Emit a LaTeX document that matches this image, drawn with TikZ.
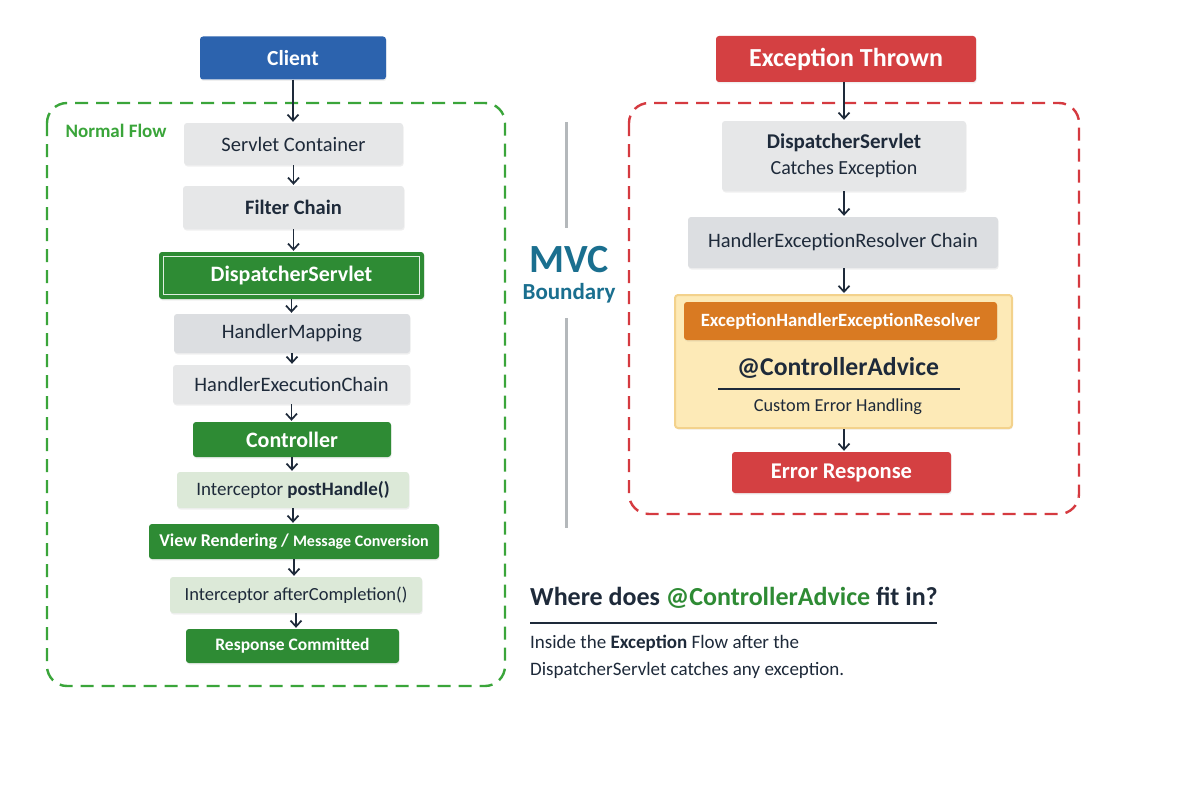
\documentclass[tikz,border=0pt]{standalone}
\usepackage{fontspec}
\setmainfont{Carlito}
\usetikzlibrary{arrows.meta,shadows}
\definecolor{navy}{RGB}{30,42,58}
\definecolor{cblue}{RGB}{44,99,174}
\definecolor{cgreen}{RGB}{46,139,52}
\definecolor{dgreen}{RGB}{58,165,58}
\definecolor{lgray}{RGB}{230,231,232}
\definecolor{mgray}{RGB}{220,222,225}
\definecolor{lgreen}{RGB}{220,233,216}
\definecolor{cred}{RGB}{212,64,66}
\definecolor{dred}{RGB}{213,58,64}
\definecolor{corange}{RGB}{217,122,34}
\definecolor{cyellow}{RGB}{253,234,183}
\definecolor{yborder}{RGB}{243,210,140}
\definecolor{teal}{RGB}{26,111,143}
\definecolor{lineg}{RGB}{180,184,187}
\newcommand\fsz[2]{\fontsize{#1}{#2}\selectfont}
\tikzset{
  box/.style={rectangle, rounded corners=3pt, inner sep=0pt, align=center, text=navy,
    drop shadow={opacity=0.12, shadow xshift=0.6pt, shadow yshift=-1.5pt}},
  graybox/.style={box, fill=lgray, font=\fsz{20.5}{24}},
  mgraybox/.style={box, fill=mgray, font=\fsz{20.5}{24}},
  lgbox/.style={box, fill=lgreen, font=\fsz{19}{22}},
  gbox/.style={box, fill=cgreen, text=white, font=\fsz{22}{26}\bfseries},
  rbox/.style={box, fill=cred, text=white, font=\fsz{22.5}{26}\bfseries},
  arr/.style={draw=navy, line width=1.9pt, -{Straight Barb[length=6pt,width=11pt,line width=1.7pt]}, shorten >=1pt},
  gdash/.style={draw=dgreen, line width=2.4pt, dash pattern=on 13pt off 8pt, rounded corners=20pt},
  rdash/.style={draw=dred, line width=2.4pt, dash pattern=on 13pt off 8pt, rounded corners=20pt},
}
\begin{document}
\begin{tikzpicture}[x=1pt,y=-1pt]
\useasboundingbox[fill=white] (0,0) rectangle (1200,800);

% dashed frames
\draw[gdash] (47,103) rectangle (505,686);
\draw[rdash] (629,103) rectangle (1079,514);
\node[anchor=west, text=dgreen, font=\fsz{19}{22}\bfseries] (nf) at (62,131) {Normal Flow};

% left column
\node[box, fill=cblue, text=white, font=\fsz{21.5}{25}\bfseries, minimum width=186pt, minimum height=43pt] (client) at (293,58) {Client};
\node[graybox, minimum width=219pt, minimum height=42pt] (sc) at (293.5,144) {Servlet Container};
\node[graybox, minimum width=221pt, minimum height=43pt] (fc) at (293.5,207.5) {\bfseries Filter Chain};
\node[gbox, minimum width=265pt, minimum height=47pt] (ds) at (291.5,275.5) {DispatcherServlet};
\draw[white!85!cgreen, line width=1.2pt] ([xshift=5pt,yshift=-5pt]ds.north west) rectangle ([xshift=-5pt,yshift=5pt]ds.south east);
\node[mgraybox, minimum width=236pt, minimum height=39pt] (hm) at (292,333.5) {HandlerMapping};
\node[graybox, minimum width=237pt, minimum height=39pt] (hec) at (291.5,384.5) {HandlerExecutionChain};
\node[gbox, minimum width=198pt, minimum height=35pt] (ctl) at (292,439.5) {Controller};
\node[lgbox, minimum width=232pt, minimum height=36pt] (ph) at (293,490) {Interceptor \textbf{postHandle()}};
\node[gbox, minimum width=290pt, minimum height=35pt, font=\bfseries] (vr) at (294,541.5) {{\fsz{18}{21}View Rendering / }{\fsz{16}{19}Message Conversion}};
\node[lgbox, minimum width=252pt, minimum height=36pt, font=\fsz{18.5}{22}] (ac) at (296,595) {Interceptor afterCompletion()};
\node[gbox, minimum width=213pt, minimum height=34pt, font=\fsz{17.5}{21}\bfseries] (rc) at (292.5,646) {Response Committed};

\draw[arr] (client.south) -- (client.south |- sc.north);
\draw[arr] (sc.south) -- (sc.south |- fc.north);
\draw[arr] (fc.south) -- (fc.south |- ds.north);
\draw[arr] (ds.south) -- (ds.south |- hm.north);
\draw[arr] (hm.south) -- (hm.south |- hec.north);
\draw[arr] (hec.south) -- (hec.south |- ctl.north);
\draw[arr] (ctl.south) -- (ctl.south |- ph.north);
\draw[arr] (ph.south) -- (ph.south |- vr.north);
\draw[arr] (vr.south) -- (vr.south |- ac.north);
\draw[arr] (ac.south) -- (ac.south |- rc.north);

% MVC boundary
\draw[lineg, line width=3pt] (566,122) -- (566,228);
\draw[lineg, line width=3pt] (566,318) -- (566,528);
\node[text=teal, font=\fsz{40}{42}\bfseries] (mvc) at (569,260) {MVC};
\node[text=teal, font=\fsz{23}{26}\bfseries] (bd) at (569,293) {Boundary};

% right column
\node[rbox, minimum width=260pt, minimum height=46pt, font=\fsz{26}{30}\bfseries] (et) at (846,59) {Exception Thrown};
\node[graybox, minimum width=244pt, minimum height=70pt, font=\fsz{20}{26}] (dsc) at (844,156) {{\fsz{21}{26}\bfseries DispatcherServlet}\\Catches Exception};
\node[mgraybox, minimum width=310pt, minimum height=51pt] (herc) at (843,242.5) {HandlerExceptionResolver Chain};
\node[box, fill=cyellow, draw=yborder, line width=2pt, minimum width=337pt, minimum height=133pt] (yb) at (843.5,361.5) {};
\node[box, fill=corange, text=white, font=\fsz{18.7}{22}\bfseries, minimum width=313pt, minimum height=38pt] (eher) at (840.5,321) {ExceptionHandlerExceptionResolver};
\node[text=navy, font=\fsz{25.7}{30}\bfseries] (ca) at (838,368) {@ControllerAdvice};
\draw[navy, line width=1.3pt] (718,389) -- (960,389);
\node[text=navy, font=\fsz{18.3}{21}] (ceh) at (838,407) {Custom Error Handling};
\node[rbox, minimum width=219pt, minimum height=41pt] (er) at (841.5,472.5) {Error Response};

\draw[arr] (et.south -| dsc.north) -- (dsc.north);
\draw[arr] (dsc.south) -- (dsc.south |- herc.north);
\draw[arr] (dsc.south |- herc.south) -- (dsc.south |- yb.north);
\draw[arr] (dsc.south |- yb.south) -- (dsc.south |- er.north);

% question
\node[anchor=west, text=navy, font=\fsz{26}{30}\bfseries, inner sep=0pt] (q) at (530,598) {Where does \textcolor{cgreen}{@ControllerAdvice} fit in?};
\draw[navy, line width=1.2pt] (530,623) -- (937,623);
\node[anchor=west, text=navy, font=\fsz{19}{22}, inner sep=0pt] (p1) at (530,643) {Inside the \textbf{Exception} Flow after the};
\node[anchor=west, text=navy, font=\fsz{19}{22}, inner sep=0pt] (p2) at (530,670) {DispatcherServlet catches any exception.};
\end{tikzpicture}
\end{document}
